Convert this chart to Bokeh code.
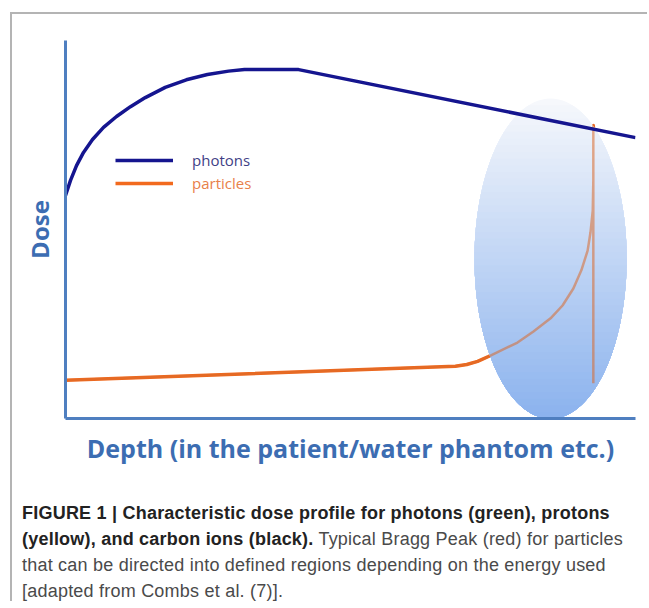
import numpy as np
from bokeh.plotting import figure
from bokeh.models import Range1d, FixedTicker, Legend, LegendItem, Div
from bokeh.layouts import column
from bokeh.embed import file_html
from bokeh.resources import INLINE

# ---- data (schematic units: depth 0-100, dose 0-100) ----
photon_depth = [0, 0.88, 1.93, 3.16, 4.74, 6.67, 8.95, 11.4, 14.0, 17.5, 21.2,
                24.9, 28.6, 31.4, 40.9, 100]
photon_dose = [59.0, 63.0, 66.9, 70.4, 73.8, 77.0, 79.9, 82.5, 84.9, 87.6, 89.6,
               91.0, 91.9, 92.3, 92.3, 74.3]

particle_depth = [0, 68.4, 70.4, 72.3, 74.2, 76.8, 79.3, 82.1, 85.1, 87.2, 89.1,
                  90.5, 91.6, 92.1, 92.5, 92.6, 92.6, 92.6, 92.6]
particle_dose = [10.1, 13.8, 14.3, 15.1, 16.4, 18.3, 20.1, 23.0, 26.5, 29.9, 34.4,
                 39.2, 44.4, 49.2, 55.0, 63.0, 70.9, 77.5, 9.3]

# target region (ellipse): centre depth, centre dose, width, height
target_depth = 85.1
target_dose = 42.3
target_width = 26.7
target_height = 84.7

series_labels = ["photons", "particles"]
x_title = "Depth (in the patient/water phantom etc.)"
y_title = "Dose"

AXIS_BLUE = "#4f7fc0"
LABEL_BLUE = "#3c6db2"

p = figure(width=635, height=465,
           x_range=Range1d(0, 100), y_range=Range1d(0, 100),
           output_backend="svg", toolbar_location=None,
           min_border_left=53, min_border_right=12,
           min_border_top=26, min_border_bottom=61)
p.outline_line_color = None
p.xgrid.visible = False
p.ygrid.visible = False
p.background_fill_color = "white"
p.border_fill_color = "white"

for ax in (p.xaxis[0], p.yaxis[0]):
    ax.ticker = FixedTicker(ticks=[])
    ax.axis_line_color = AXIS_BLUE
    ax.axis_line_width = 3
    ax.major_tick_line_color = None
    ax.minor_tick_line_color = None
    ax.major_label_text_font_size = "0px"
    ax.axis_label_text_color = LABEL_BLUE
    ax.axis_label_text_font = "Open Sans"
    ax.axis_label_text_font_style = "bold"
p.xaxis.axis_label = x_title
p.yaxis.axis_label = y_title
p.xaxis.axis_label_text_font_size = "25px"
p.yaxis.axis_label_text_font_size = "24px"
p.xaxis.axis_label_standoff = 12
p.yaxis.axis_label_standoff = 10

# particles, opaque pass (hidden under the target region where they overlap)
r_pa = p.line(particle_depth, particle_dose, line_color="#f26a1e", line_width=3.5,
              line_join="round")

# target region with a vertical gradient, built as stacked lower segments
a = target_width / 2
b = target_height / 2
n_layers = 48
top_rgb = np.array([246, 248, 252])
bot_rgb = np.array([138, 178, 238])
xs, ys, cols = [], [], []
for i in range(n_layers):
    f = i / n_layers
    level = target_dose + b - f * 2 * b
    s = np.clip((level - target_dose) / b, -1, 1)
    t1 = np.arcsin(s)
    t = np.linspace(np.pi - t1, 2 * np.pi + t1, 120)
    xs.append(list(target_depth + a * np.cos(t)))
    ys.append(list(target_dose + b * np.sin(t)))
    c = (top_rgb + (bot_rgb - top_rgb) * f).astype(int)
    cols.append("#%02x%02x%02x" % tuple(c))
p.patches(xs, ys, fill_color=cols, line_color=None)

# particles, translucent pass shows through the target region
p.line(particle_depth, particle_dose, line_color="#d9692c", line_width=2.5,
       line_alpha=0.55, line_join="round")

# photons
r_ph = p.line(photon_depth, photon_dose, line_color="#15158f", line_width=3.5,
              line_join="round")

leg1 = Legend(items=[LegendItem(label=series_labels[0], renderers=[r_ph])],
              location=(50, 248), label_text_color="#3f3f86")
leg2 = Legend(items=[LegendItem(label=series_labels[1], renderers=[r_pa])],
              location=(50, 225), label_text_color="#e8804a")
for lg in (leg1, leg2):
    lg.glyph_width = 58
    lg.glyph_height = 20
    lg.label_height = 20
    lg.label_standoff = 19
    lg.padding = 0
    lg.margin = 0
    lg.spacing = 0
    lg.border_line_color = None
    lg.background_fill_alpha = 0
    lg.label_text_font = "Open Sans"
    lg.label_text_font_size = "15px"
    p.add_layout(lg)

caption_bold_1 = "FIGURE 1 | Characteristic dose profile for photons (green), protons"
caption_bold_2 = "(yellow), and carbon ions (black)."
caption_reg_2 = " Typical Bragg Peak (red) for particles"
caption_reg_3 = "that can be directed into defined regions depending on the energy used"
caption_reg_4 = "[adapted from Combs et al. (7)]."

B = '<b style="color:#222;letter-spacing:0.22px">'
R = '<span style="letter-spacing:0.22px">'
html = (
    '<div style="font-family:\'Liberation Sans\',Arial,sans-serif;font-size:18px;'
    'line-height:26px;color:#4a4a4a;white-space:nowrap;padding:16px 0 0 5px;">'
    f'{B}{caption_bold_1}</b><br>'
    f'{B}{caption_bold_2}</b>{R}{caption_reg_2}</span><br>'
    f'{R}{caption_reg_3}</span><br>{R}{caption_reg_4}</span></div>'
)
cap = Div(text=html, width=625, height=112)

layout = column(p, cap, spacing=0,
                styles={"border-top": "2px solid #b4b4b4",
                        "border-left": "2px solid #b4b4b4",
                        "border-right": "none",
                        "margin-left": "10px", "margin-top": "12px"})

open("out.html", "w").write(file_html(layout, INLINE))
